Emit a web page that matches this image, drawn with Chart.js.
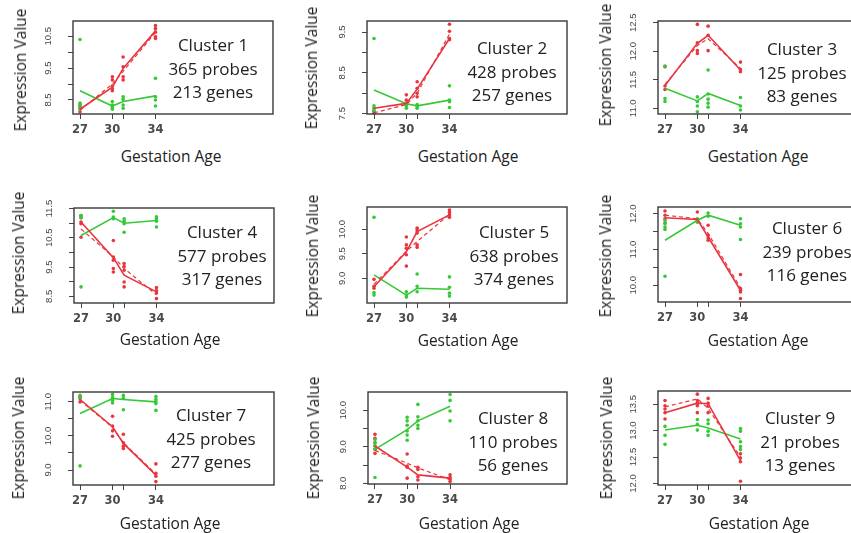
<!DOCTYPE html>
<html>
<head>
<meta charset="utf-8">
<script src="https://cdn.jsdelivr.net/npm/chart.js@4.4.1/dist/chart.umd.min.js"></script>
<style>
  body { margin: 0; width: 851px; height: 533px; overflow: hidden; background: #fff; position: relative; font-family: "Open Sans", sans-serif; color: #222; }
  canvas { position: absolute; }
  .t { position: absolute; white-space: nowrap; transform: translate(-50%, -50%); }
  .yt { font-size: 15.5px; transform: translate(-50%, -50%) rotate(-90deg); }
  .xt { font-size: 15.5px; }
  .cl { font-size: 17px; line-height: 23.5px; text-align: center; white-space: pre; transform: translateX(-50%); }
</style>
</head>
<body>
<script>
// data
const ages = [27, 30, 31, 34];
const xTickLabels = ["27", "30", "", "34"];
const clusterNames = ["Cluster 1", "Cluster 2", "Cluster 3", "Cluster 4", "Cluster 5", "Cluster 6", "Cluster 7", "Cluster 8", "Cluster 9"];
const probeCounts = [365, 428, 125, 577, 638, 239, 425, 110, 21];
const geneCounts = [213, 257, 83, 317, 374, 116, 277, 56, 13];

const yMins = [8.06, 7.49, 10.9, 8.27, 8.5, 9.53, 8.56, 7.98, 11.97];
const yMaxs = [10.98, 9.77, 12.53, 11.52, 10.45, 12.19, 11.29, 10.5, 13.75];
const yTickValues = [
  [8.5, 9, 9.5, 10, 10.5],
  [7.5, 8, 8.5, 9, 9.5],
  [11, 11.5, 12, 12.5],
  [8.5, 9, 9.5, 10, 10.5, 11, 11.5],
  [9, 9.5, 10],
  [10, 10.5, 11, 11.5, 12],
  [9, 9.5, 10, 10.5, 11],
  [8, 8.5, 9, 9.5, 10],
  [12, 12.5, 13, 13.5]
];
const yTickLabels = [
  ["8.5", "", "9.5", "", "10.5"],
  ["7.5", "", "8.5", "", "9.5"],
  ["11.0", "11.5", "12.0", "12.5"],
  ["8.5", "", "9.5", "", "10.5", "", "11.5"],
  ["9.0", "9.5", "10.0"],
  ["10.0", "", "11.0", "", "12.0"],
  ["9.0", "", "10.0", "", "11.0"],
  ["8.0", "", "9.0", "", "10.0"],
  ["12.0", "12.5", "13.0", "13.5"]
];

const redMean = [
  [8.21, 8.9, 9.49, 10.67],
  [7.63, 7.75, 8.1, 9.34],
  [11.4, 12.14, 12.28, 11.67],
  [11.04, 9.82, 9.22, 8.65],
  [8.83, 9.54, 9.95, 10.29],
  [11.89, 11.84, 11.35, 9.86],
  [11.07, 10.27, 9.78, 8.85],
  [9.02, 8.44, 8.23, 8.14],
  [13.34, 13.52, 13.51, 12.43]
];
const redFit = [
  [8.18, 9.0, 9.4, 10.62],
  [7.52, 7.72, 8.0, 9.45],
  [11.42, 12.1, 12.22, 11.7],
  [10.8, 9.85, 9.45, 8.55],
  [8.88, 9.55, 9.75, 10.3],
  [11.96, 11.86, 11.45, 9.93],
  [11.05, 10.25, 9.8, 8.88],
  [8.9, 8.55, 8.42, 8.1],
  [13.45, 13.6, 13.42, 12.5]
];
const greenMean = [
  [8.79, 8.31, 8.45, 8.63],
  [8.08, 7.74, 7.69, 7.83],
  [11.35, 11.13, 11.26, 11.05],
  [10.58, 11.19, 11.0, 11.09],
  [9.07, 8.66, 8.8, 8.78],
  [11.26, 11.82, 11.96, 11.68],
  [10.66, 11.1, 11.07, 11.0],
  [8.93, 9.47, 9.71, 10.11],
  [13.01, 13.1, 13.05, 12.84]
];

// sample values per age (27, 30, 31, 34)
const redPoints = [
  [[8.34, 8.24, 8.13], [9.23, 9.13, 8.94, 8.86, 8.79], [9.85, 9.54, 9.23, 9.13], [10.84, 10.74, 10.63, 10.48, 10.43]],
  [[7.63, 7.55, 7.51], [7.96, 7.83, 7.75], [8.28, 8.12, 8.0, 7.91], [9.69, 9.52, 9.34, 9.31]],
  [[11.73, 11.39, 11.33], [12.47, 12.15, 12.01, 11.96], [12.44, 12.28, 12.01], [11.81, 11.68, 11.64]],
  [[11.26, 11.19, 11.04, 10.98, 10.52], [10.41, 9.84, 9.73, 9.45, 9.33], [9.62, 9.52, 9.39, 8.99, 8.82], [8.8, 8.7, 8.61, 8.42]],
  [[8.98, 8.84, 8.8], [9.84, 9.68, 9.61, 9.48, 9.25], [10.02, 9.97, 9.92, 9.68, 9.63], [10.39, 10.34, 10.29, 10.24]],
  [[12.08, 11.96, 11.86, 11.74], [12.05, 11.84, 11.77], [11.68, 11.4, 11.33, 11.26], [10.3, 9.91, 9.86, 9.81, 9.63]],
  [[11.16, 11.1, 11.0], [10.58, 10.29, 10.15, 9.99], [10.05, 9.8, 9.7, 9.63], [9.18, 8.9, 8.82, 8.66]],
  [[9.34, 9.23, 9.11, 9.02, 8.93, 8.82], [8.8, 8.47, 8.44, 8.14], [8.44, 8.38, 8.18, 8.09], [8.23, 8.16, 8.11, 8.05]],
  [[13.57, 13.47, 13.41, 13.34, 13.22], [13.69, 13.57, 13.52, 13.47, 13.34], [13.61, 13.52, 13.46, 13.34], [12.56, 12.48, 12.41, 12.04]]
];
const greenPoints = [
  [[10.4, 8.4, 8.3, 8.22], [8.45, 8.34, 8.27, 8.21], [8.6, 8.52, 8.34, 8.24], [9.18, 8.6, 8.5, 8.31]],
  [[9.34, 7.69, 7.63, 7.57], [7.75, 7.69, 7.63], [7.72, 7.67, 7.63], [8.18, 7.83, 7.79, 7.65]],
  [[11.74, 11.17, 11.12], [11.2, 11.12, 11.04, 10.94], [11.67, 11.25, 11.16, 11.09, 11.02], [11.19, 11.04, 10.97]],
  [[11.26, 11.19, 8.82], [11.41, 11.21, 11.15], [11.15, 11.07, 10.98, 10.69], [11.22, 11.15, 11.07, 10.87]],
  [[10.24, 8.71, 8.66], [8.73, 8.66, 8.62], [9.09, 8.84, 8.73], [9.03, 8.82, 8.7, 8.64]],
  [[11.82, 11.72, 11.63, 11.56, 10.25], [11.86, 11.77], [12.02, 11.93], [11.86, 11.72, 11.63, 11.28]],
  [[11.19, 11.13, 9.12], [11.22, 11.13, 11.05, 10.97], [11.19, 11.1, 10.77], [11.16, 11.07, 11.0, 10.95, 10.75]],
  [[9.2, 9.11, 9.02, 8.93, 8.16], [9.81, 9.71, 9.59, 9.43, 9.32, 9.18], [10.16, 9.82, 9.71, 9.59, 9.5], [10.43, 10.27, 9.98, 9.71]],
  [[13.08, 12.91, 12.74], [13.21, 13.12, 13.01], [13.2, 13.13, 12.99, 12.91], [13.04, 12.99, 12.79, 12.7, 12.64]]
];

// layout (page px): plot box [left, top, right, bottom], text centres
const boxes = [
  [73, 21, 273, 114], [367, 21, 567, 114], [658, 21, 858, 114],
  [74, 208, 274, 303], [367, 207, 567, 303], [658, 207, 858, 302],
  [73, 392, 274, 485], [368, 392, 567, 484], [658, 391, 858, 485]
];
const labelPos = [[213, 33], [512, 36], [802, 37], [222, 220], [514, 220], [807, 216], [211, 403], [513, 406], [800, 406]];
const yTitlePos = [[20, 70], [311, 68], [605, 65], [18, 253], [312, 256], [605, 256], [18, 438], [313, 438], [606, 438]];
const xTitlePos = [[171, 156], [468, 156], [758, 156], [170, 339], [468, 340], [758, 340], [170, 523], [469, 523], [759, 523]];

const RED = "#e8353f";
const GREEN = "#36c936";
const X_MIN = 26.35, X_MAX = 44.9;
const PAD_L = 50, PAD_T = 10, PAD_R = 10, PAD_B = 30;
const Y_W = 40, X_H = 30;
const yFont = { family: '"Liberation Sans Narrow", "Liberation Sans", sans-serif', size: 9.5 };
const xFont = { family: '"DejaVu Sans", sans-serif', size: 11.5, weight: "bold" };

const frame = {
  id: "frame",
  afterDraw(chart) {
    const a = chart.chartArea, c = chart.ctx;
    c.save();
    c.strokeStyle = "#3a3a3a";
    c.lineWidth = 1.4;
    c.strokeRect(a.left, a.top, a.right - a.left, a.bottom - a.top);
    c.restore();
  }
};

const meas = document.createElement("canvas").getContext("2d");
meas.font = yFont.size + "px " + yFont.family;

function linePts(vals) {
  return vals.map((v, k) => ({ x: ages[k], y: v }));
}
function scatterPts(groups) {
  return groups.flatMap((vals, k) => vals.map(v => ({ x: ages[k], y: v })));
}
function addText(cls, x, y, txt) {
  const d = document.createElement("div");
  d.className = "t " + cls;
  d.style.left = x + "px";
  d.style.top = y + "px";
  d.textContent = txt;
  document.body.appendChild(d);
}

for (let i = 0; i < 9; i++) {
  const [L, T, R, B] = boxes[i];
  const cv = document.createElement("canvas");
  cv.width = R - L + PAD_L + PAD_R;
  cv.height = B - T + PAD_T + PAD_B;
  cv.style.left = (L - PAD_L) + "px";
  cv.style.top = (T - PAD_T) + "px";
  document.body.appendChild(cv);

  const widest = Math.max(...yTickLabels[i].map(s => meas.measureText(s).width));
  const yPad = 20 - widest / 2;

  new Chart(cv.getContext("2d"), {
    type: "scatter",
    data: {
      datasets: [
        { type: "line", data: linePts(redFit[i]), borderColor: RED, borderWidth: 1.2, borderDash: [4, 3], pointRadius: 0, order: 1 },
        { type: "line", data: linePts(redMean[i]), borderColor: RED, borderWidth: 1.6, pointRadius: 0, order: 1 },
        { type: "line", data: linePts(greenMean[i]), borderColor: GREEN, borderWidth: 1.6, pointRadius: 0, order: 1 },
        { data: scatterPts(greenPoints[i]), backgroundColor: GREEN, borderWidth: 0, pointRadius: 1.8, order: 2 },
        { data: scatterPts(redPoints[i]), backgroundColor: RED, borderWidth: 0, pointRadius: 1.8, order: 2 }
      ]
    },
    options: {
      responsive: false,
      animation: false,
      layout: { padding: { left: PAD_L - Y_W, top: PAD_T, right: PAD_R, bottom: PAD_B - X_H } },
      plugins: { legend: { display: false }, tooltip: { enabled: false } },
      scales: {
        x: {
          type: "linear",
          min: X_MIN,
          max: X_MAX,
          afterBuildTicks: s => { s.ticks = ages.map(v => ({ value: v })); },
          afterFit: s => { s.height = X_H; s.paddingLeft = 0; s.paddingRight = 0; },
          ticks: { callback: (v, k) => xTickLabels[k], font: xFont, color: "#4a4a4a", padding: 4, autoSkip: false, maxRotation: 0 },
          grid: { drawOnChartArea: false, tickLength: 5, color: "#444" },
          border: { display: false }
        },
        y: {
          min: yMins[i],
          max: yMaxs[i],
          afterBuildTicks: s => { s.ticks = yTickValues[i].map(v => ({ value: v })); },
          afterFit: s => { s.width = Y_W; s.paddingTop = 0; s.paddingBottom = 0; },
          ticks: {
            callback: (v, k) => yTickLabels[i][k],
            font: yFont, color: "#444", padding: yPad, autoSkip: false,
            minRotation: 90, maxRotation: 90, crossAlign: "center"
          },
          grid: { drawOnChartArea: false, tickLength: 5, color: "#444" },
          border: { display: false }
        }
      }
    },
    plugins: [frame]
  });

  addText("yt", yTitlePos[i][0], yTitlePos[i][1], "Expression Value");
  addText("xt", xTitlePos[i][0], xTitlePos[i][1], "Gestation Age");
  addText("cl", labelPos[i][0], labelPos[i][1],
    clusterNames[i] + "\n" + probeCounts[i] + " probes\n" + geneCounts[i] + " genes");
}
</script>
</body>
</html>
